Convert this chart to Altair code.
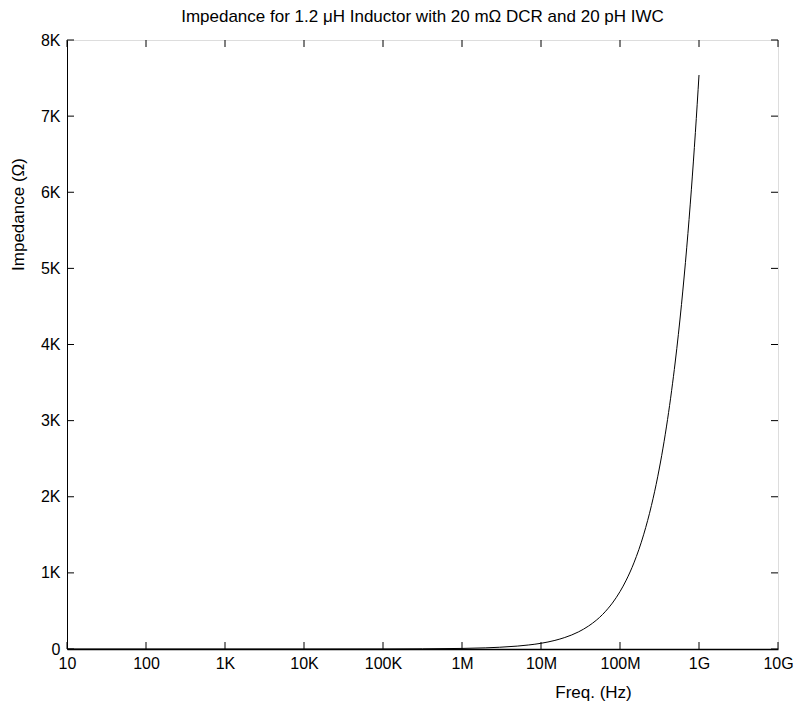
import altair as alt
import pandas as pd

# Frequencies (Hz) and impedance magnitudes (ohm)
freq = [10, 100, 1e3, 1e4, 1e5, 1e6, 2e6, 3e6, 5e6, 7e6, 1e7, 1.5e7, 2e7, 3e7,
        4e7, 5e7, 6e7, 7e7, 8e7, 1e8, 1.2e8, 1.5e8, 2e8, 2.5e8, 3e8, 3.5e8,
        4e8, 4.5e8, 5e8, 6e8, 7e8, 8e8, 9e8, 1e9]
impedance = [0.02, 0.02, 0.02, 0.08, 0.75, 7.5, 15, 23, 38, 53, 75, 113, 151,
             226, 302, 377, 452, 528, 603, 754, 905, 1131, 1508, 1885, 2262,
             2639, 3016, 3393, 3770, 4524, 5278, 6032, 6786, 7540]

x_ticks = [10, 100, 1e3, 1e4, 1e5, 1e6, 1e7, 1e8, 1e9, 1e10]
x_labels = ["10", "100", "1K", "10K", "100K", "1M", "10M", "100M", "1G", "10G"]
y_ticks = [0, 1000, 2000, 3000, 4000, 5000, 6000, 7000, 8000]
y_labels = ["0", "1K", "2K", "3K", "4K", "5K", "6K", "7K", "8K"]

W, H = 711, 609
FONT = "Liberation Sans"

df = pd.DataFrame({"f": freq, "z": impedance})
xt = pd.DataFrame({"f": x_ticks})
yt = pd.DataFrame({"z": y_ticks})

xlab_expr = "{" + ",".join(f"'{int(v)}':'{l}'" for v, l in zip(x_ticks, x_labels)) + "}[format(datum.value,'d')]"
ylab_expr = "{" + ",".join(f"'{v}':'{l}'" for v, l in zip(y_ticks, y_labels)) + "}[format(datum.value,'d')]"

xscale = alt.Scale(type="log", domain=[10, 1e10], nice=False)
yscale = alt.Scale(domain=[0, 8000], nice=False, zero=False)

line = alt.Chart(df).mark_line(color="black", strokeWidth=1, interpolate="monotone", clip=True).encode(
    x=alt.X("f:Q", scale=xscale,
            axis=alt.Axis(values=x_ticks, labelExpr=xlab_expr, tickSize=0, title="Freq.  (Hz)",
                          labelFont=FONT, labelFontSize=16, labelColor="black", labelPadding=6,
                          titleFont=FONT, titleFontSize=17, titleFontWeight="normal", titleColor="black",
                          titleX=526, titleY=35, titleAnchor="middle", titleAlign="center",
                          domainColor="black", domainWidth=1.5, grid=False, labelFlush=False)),
    y=alt.Y("z:Q", scale=yscale,
            axis=alt.Axis(values=y_ticks, labelExpr=ylab_expr, tickSize=0, title="Impedance  (Ω)",
                          labelFont=FONT, labelFontSize=16, labelColor="black", labelPadding=7,
                          titleFont=FONT, titleFontSize=17, titleFontWeight="normal", titleColor="black",
                          titleX=-40, titleY=174, titleAlign="center", titleAngle=-90,
                          domainColor="black", domainWidth=1, grid=False, labelFlush=False)),
)

TL = 7
xt_bottom = alt.Chart(xt).mark_rule(color="black", strokeWidth=1).encode(
    x=alt.X("f:Q", scale=xscale), y=alt.value(H), y2=alt.value(H - TL))
xt_top = alt.Chart(xt).mark_rule(color="black", strokeWidth=1).encode(
    x=alt.X("f:Q", scale=xscale), y=alt.value(0), y2=alt.value(TL))
yt_left = alt.Chart(yt).mark_rule(color="black", strokeWidth=1).encode(
    y=alt.Y("z:Q", scale=yscale), x=alt.value(0), x2=alt.value(TL))
yt_right = alt.Chart(yt).mark_rule(color="black", strokeWidth=1).encode(
    y=alt.Y("z:Q", scale=yscale), x=alt.value(W), x2=alt.value(W - TL))

chart = alt.layer(line, xt_bottom, xt_top, yt_left, yt_right).properties(
    width=W, height=H,
    title=alt.TitleParams("Impedance for 1.2 μH Inductor with 20 mΩ DCR and 20 pH IWC",
                          font=FONT, fontSize=17, fontWeight="normal", color="black",
                          anchor="middle", offset=6),
    autosize=alt.AutoSizeParams(type="none"),
    padding={"left": 67, "top": 40, "right": 18, "bottom": 55},
).configure_view(stroke="black", strokeWidth=1).configure(background="white")

chart.save("out.html", embed_options={"renderer": "svg", "actions": False})
